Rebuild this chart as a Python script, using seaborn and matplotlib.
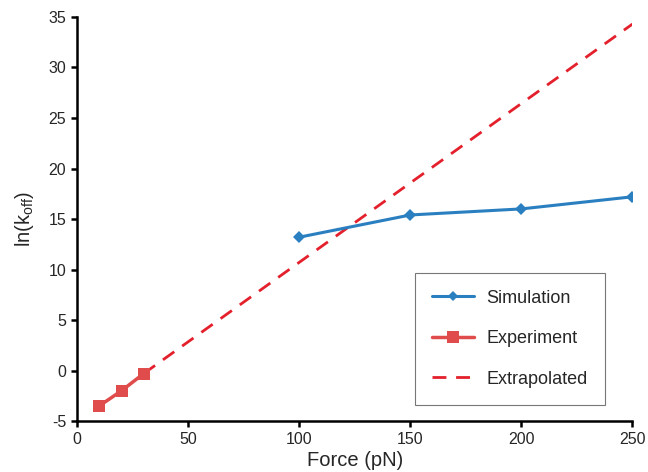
import pandas as pd
import matplotlib
matplotlib.use("Agg")
import matplotlib.pyplot as plt
import seaborn as sns

# data
sim_force = [100, 150, 200, 250]
sim_lnk = [13.2, 15.4, 16.0, 17.2]
exp_force = [10, 20, 30]
exp_lnk = [-3.5, -2.0, -0.3]
extrap_force = [30, 250]
extrap_lnk = [-0.3, 34.3]

sns.set_theme(style="white")
plt.rcParams['font.family'] = ['Liberation Sans', 'DejaVu Sans']
plt.rcParams['mathtext.default'] = 'regular'
plt.rcParams['axes.unicode_minus'] = False

sim = pd.DataFrame({"force": sim_force, "lnk": sim_lnk})
exp = pd.DataFrame({"force": exp_force, "lnk": exp_lnk})
ext = pd.DataFrame({"force": extrap_force, "lnk": extrap_lnk})

fig = plt.figure(figsize=(6.48, 4.72), dpi=100)
ax = fig.add_axes([0.119, 0.108, 0.857, 0.856])

sns.lineplot(data=ext, x="force", y="lnk", ax=ax, color="#e3202b",
             linestyle=(0, (5, 3.5)), linewidth=2, label="Extrapolated")
sns.lineplot(data=sim, x="force", y="lnk", ax=ax, color="#2a7fc0",
             marker="D", markersize=6, markeredgewidth=0, linewidth=2.2, label="Simulation")
sns.lineplot(data=exp, x="force", y="lnk", ax=ax, color="#e04b4b",
             marker="s", markersize=8, markeredgewidth=0, linewidth=2.5, label="Experiment")

ax.set_xlim(0, 250)
ax.set_ylim(-5, 35)
ax.set_xticks(range(0, 251, 50))
ax.set_yticks(range(-5, 36, 5))
ax.set_xlabel("Force (pN)", fontsize=14.5, labelpad=3)
ax.set_ylabel("ln(k$_{off}$)", fontsize=14.5, labelpad=9)

for side in ["top", "right"]:
    ax.spines[side].set_visible(False)
for side in ["left", "bottom"]:
    ax.spines[side].set_color("black")
    ax.spines[side].set_linewidth(1.8)
ax.tick_params(axis="both", direction="out", length=4, width=1.8,
               color="black", labelsize=11.5, bottom=True, left=True, pad=4)

handles, labels = ax.get_legend_handles_labels()
order = [labels.index(n) for n in ["Simulation", "Experiment", "Extrapolated"]]
leg = ax.legend([handles[i] for i in order], [labels[i] for i in order],
                loc="lower right", bbox_to_anchor=(0.95, 0.04), fontsize=13,
                frameon=True, fancybox=False, edgecolor="#555555",
                handlelength=2.3, labelspacing=1.3, borderpad=0.95,
                handletextpad=0.7, borderaxespad=0)
leg.get_frame().set_linewidth(0.8)
for h in leg.legend_handles:
    if h.get_marker() == "D":
        h.set_markersize(5)

plt.savefig("out.png", dpi=100)
